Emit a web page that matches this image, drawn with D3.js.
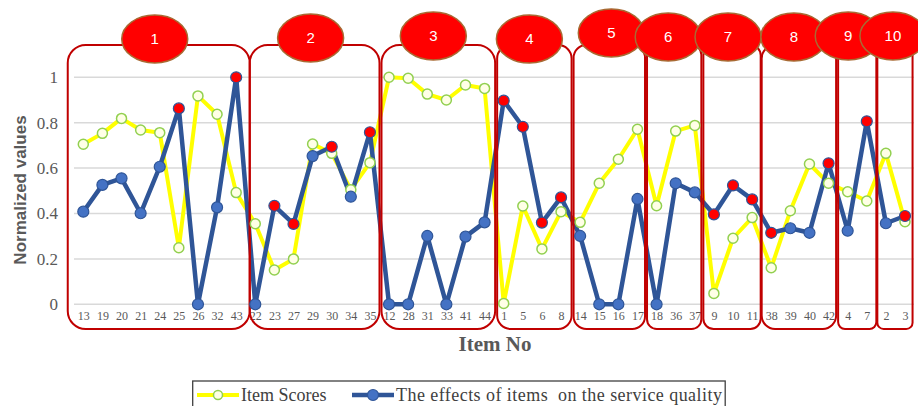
<!DOCTYPE html>
<html><head><meta charset="utf-8">
<script src="https://cdn.jsdelivr.net/npm/d3@7"></script>
<style>body{margin:0;background:#fff}svg{display:block}</style>
</head><body><svg id="c" width="918" height="406"></svg>
<script>
const items = [13,19,20,21,24,25,26,32,43, 22,23,27,29,30,34,35, 12,28,31,33,41,44, 1,5,6,8, 14,15,16,17, 18,36,37, 9,10,11, 38,39,40,42, 4,7, 2,3];
const groupNames = ["1","2","3","4","5","6","7","8","9","10"];
const groupSizes = [9,7,6,4,4,3,3,4,2,2];
const itemScores = [0.705,0.753,0.819,0.768,0.756,0.249,0.918,0.837,0.492, 0.355,0.151,0.2,0.706,0.665,0.505,0.624, 1.0,0.996,0.926,0.9,0.966,0.951, 0.004,0.433,0.244,0.408, 0.361,0.533,0.639,0.771, 0.434,0.763,0.788, 0.048,0.291,0.382, 0.161,0.412,0.618,0.533, 0.496,0.455, 0.665,0.364];
const effects = [0.408,0.526,0.555,0.401,0.606,0.863,0,0.427,1.0, 0,0.434,0.354,0.653,0.694,0.474,0.758, 0,0,0.301,0,0.298,0.361, 0.897,0.782,0.36,0.471, 0.301,0,0,0.464, 0,0.533,0.493, 0.396,0.524,0.462, 0.315,0.335,0.315,0.621, 0.324,0.806, 0.357,0.389];
const highlighted = [25,43,23,27,30,35,1,5,6,8,9,10,11,38,42,7,3];
const yTicks = [0,0.2,0.4,0.6,0.8,1];
const yTickLabels = ["0","0.2","0.4","0.6","0.8","1"];
const seriesNames = ["Item Scores","The effects of items\u00A0 on the service quality"];
const labelDx = [-4,-4,-5,-5,2,-6,-4,-5,-9,-2];
const labelDy = [2,1,-1,2,-4,0,0,0,-1,-1];
const boxDl = [-6,4,2,3,3,0,-1,0,0,1];
const boxDr = [4,0,1,1,-2,-3,-1,-2,0,-2];

const svg = d3.select("#c");
const x = d3.scalePoint().domain(items).range([83.3, 905]);
const step = x.step();
const y = d3.scaleLinear().domain([0,1]).range([304.3, 77.3]);
const gridL = 74, gridR = 914;

// gridlines
svg.append("g").selectAll("line").data(yTicks).join("line")
  .attr("x1", gridL).attr("x2", gridR).attr("y1", d=>y(d)).attr("y2", d=>y(d))
  .attr("stroke", "#D9D9D9").attr("stroke-width", 1.5);

// y axis labels
const yAxis = d3.axisLeft(y).tickValues(yTicks).tickFormat((d,i)=>yTickLabels[i]).tickSize(0).tickPadding(0);
const ya = svg.append("g").attr("transform", "translate(58,0)").call(yAxis);
ya.select(".domain").remove();
ya.selectAll("text").attr("font-family","Liberation Serif").attr("font-size",17).attr("fill","#595959");

// x axis labels
const xAxis = d3.axisBottom(x).tickSize(0).tickPadding(0);
const xa = svg.append("g").attr("transform","translate(0,311)").call(xAxis);
xa.select(".domain").remove();
xa.selectAll("text").attr("font-family","Liberation Serif").attr("font-size",12).attr("fill","#595959");

// axis titles
svg.append("text").attr("transform","translate(26,190) rotate(-90)").attr("text-anchor","middle")
  .attr("font-family","Liberation Sans").attr("font-weight","bold").attr("font-size",17).attr("fill","#595959")
  .text("Normalized values");
svg.append("text").attr("x",495).attr("y",351).attr("text-anchor","middle")
  .attr("font-family","Liberation Serif").attr("font-weight","bold").attr("font-size",21).attr("fill","#595959")
  .text("Item No");

// lines
const line = d3.line().x((d,i)=>x(items[i])).y(d=>y(d));
svg.append("path").datum(itemScores).attr("d",line).attr("fill","none").attr("stroke","#FFFF00").attr("stroke-width",4).attr("stroke-linejoin","round");
svg.append("path").datum(effects).attr("d",line).attr("fill","none").attr("stroke","#2F5597").attr("stroke-width",4.5).attr("stroke-linejoin","round");

// group boxes
const groups = [];
let start = 0;
groupSizes.forEach((n,g)=>{ groups.push({name:groupNames[g], s:start, e:start+n-1, g}); start += n; });
const boxes = svg.append("g");
groups.forEach(gr=>{
  const left = x(items[gr.s]) - step/2 + boxDl[gr.g];
  const right = x(items[gr.e]) + step/2 + boxDr[gr.g];
  const w = right-left;
  const r = Math.min(18, w*0.18);
  gr.cx = (left+right)/2;
  boxes.append("rect").attr("x",left).attr("y",45).attr("width",w).attr("height",284)
    .attr("rx",r).attr("ry",r).attr("fill","none").attr("stroke","#C00000").attr("stroke-width",2);
});

// markers
svg.append("g").selectAll("circle").data(itemScores).join("circle")
  .attr("cx",(d,i)=>x(items[i])).attr("cy",d=>y(d)).attr("r",5)
  .attr("fill","#FFFFE6").attr("stroke","#92D050").attr("stroke-width",1.5);
svg.append("g").selectAll("circle").data(effects).join("circle")
  .attr("cx",(d,i)=>x(items[i])).attr("cy",d=>y(d)).attr("r",5.5)
  .attr("fill",(d,i)=>highlighted.includes(items[i]) ? "#FF0000" : "#4472C4")
  .attr("stroke","#2F5597").attr("stroke-width",1.2);

// group label ellipses
const lab = svg.append("g");
groups.forEach(gr=>{
  const cx = gr.cx + labelDx[gr.g], cy = 37 + labelDy[gr.g];
  lab.append("ellipse").attr("cx",cx).attr("cy",cy).attr("rx",33).attr("ry",24)
    .attr("fill","#FF0000").attr("stroke","#A86A33").attr("stroke-width",1.5);
  lab.append("text").attr("x",cx).attr("y",cy+5).attr("text-anchor","middle")
    .attr("font-family","Liberation Sans").attr("font-size",15).attr("fill","#fff").text(gr.name);
});

// legend
const lg = svg.append("g");
lg.append("rect").attr("x",192.7).attr("y",381).attr("width",532.5).attr("height",40)
  .attr("fill","#fff").attr("stroke","#404040").attr("stroke-width",1.3);
lg.append("line").attr("x1",197).attr("x2",239).attr("y1",395).attr("y2",395).attr("stroke","#FFFF00").attr("stroke-width",4);
lg.append("circle").attr("cx",218).attr("cy",395).attr("r",4.5).attr("fill","#FFFFE6").attr("stroke","#92D050").attr("stroke-width",1.5);
lg.append("text").attr("x",241).attr("y",401).attr("font-family","Liberation Serif").attr("font-size",18).attr("fill","#404040").text(seriesNames[0]);
lg.append("line").attr("x1",352).attr("x2",394).attr("y1",395).attr("y2",395).attr("stroke","#2F5597").attr("stroke-width",4.5);
lg.append("circle").attr("cx",373).attr("cy",395).attr("r",5.5).attr("fill","#4472C4").attr("stroke","#2F5597").attr("stroke-width",1.2);
lg.append("text").attr("x",396).attr("y",401).attr("font-family","Liberation Serif").attr("font-size",18).attr("fill","#404040")
  .attr("letter-spacing",0.45).text(seriesNames[1]);
</script></body></html>
